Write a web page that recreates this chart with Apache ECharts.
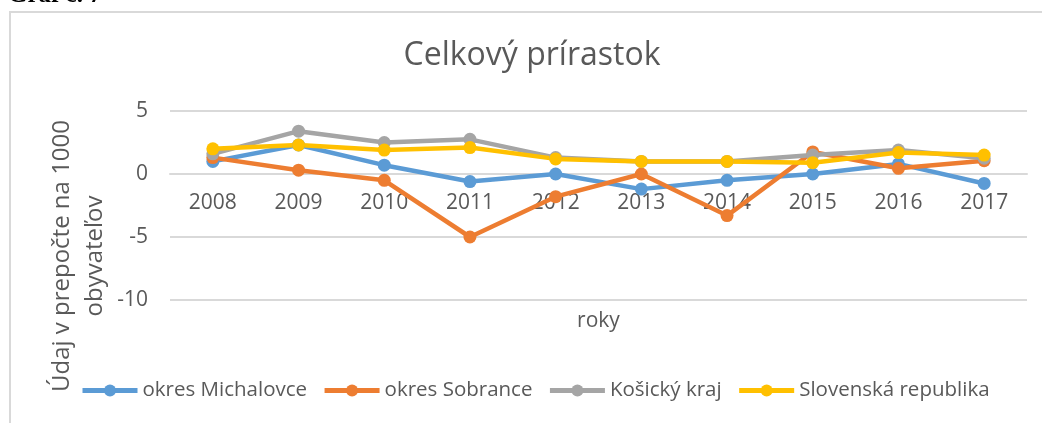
<!DOCTYPE html>
<html>
<head>
<meta charset="utf-8">
<script src="https://cdn.jsdelivr.net/npm/echarts@6/dist/echarts.min.js"></script>
<style>
html,body{margin:0;padding:0;background:#fff;}
#chart{width:1042px;height:423px;}
</style>
</head>
<body>
<div id="chart"></div>
<script>
const years = ['2008','2009','2010','2011','2012','2013','2014','2015','2016','2017'];
const michalovce = [1.0, 2.3, 0.7, -0.6, 0.0, -1.2, -0.5, 0.0, 0.8, -0.75];
const sobrance = [1.3, 0.3, -0.5, -5.0, -1.8, 0.0, -3.3, 1.75, 0.45, 1.05];
const kosickyKraj = [1.6, 3.4, 2.5, 2.75, 1.3, 1.0, 1.0, 1.5, 1.9, 1.25];
const slovensko = [2.0, 2.3, 1.9, 2.1, 1.2, 1.0, 1.0, 0.9, 1.7, 1.5];
const seriesNames = ['okres Michalovce','okres Sobrance','Košický kraj','Slovenská republika'];
const colors = ['#5B9BD5','#ED7D31','#A5A5A5','#FFC000'];
const yMin = -10, yMax = 5, yStep = 5;

const FONT = '"Open Sans", sans-serif';
const gridTop = 111, gridBottom = 123, H = 423;
const plotH = H - gridTop - gridBottom;
// place the category axis at value 0 of the value axis
const zeroOffset = -(0 - yMin) / (yMax - yMin) * plotH;

const chart = echarts.init(document.getElementById('chart'));
const mk = (name, data, color) => ({
  name, type: 'line', data,
  symbol: 'circle', symbolSize: 13,
  lineStyle: {width: 4.5, color},
  itemStyle: {color},
  emphasis: {disabled: true}
});
chart.setOption({
  animation: false,
  textStyle: {fontFamily: FONT},
  color: colors,
  grid: {left: 170, right: 15, top: gridTop, bottom: gridBottom, containLabel: false, outerBoundsMode: 'none'},
  graphic: [
    {type: 'rect', shape: {x: 10, y: 12, width: 1040, height: 440}, style: {fill: 'none', stroke: '#d9d9d9', lineWidth: 2}, silent: true},
    {type: 'text', x: 8, y: 8, style: {text: 'Graf č. 7', font: 'bold 25px "Liberation Serif", serif', fill: '#000', textVerticalAlign: 'bottom'}},
    {type: 'text', x: 532, y: 56, style: {text: 'Celkový prírastok', font: '32px ' + FONT, fill: '#595959', textAlign: 'center', textVerticalAlign: 'middle'}},
    {type: 'text', x: 79, y: 256, rotation: Math.PI / 2, style: {text: 'Údaj v prepočte na 1000\nobyvateľov', font: '24px ' + FONT, fill: '#595959', textAlign: 'center', textVerticalAlign: 'middle', lineHeight: 33}}
  ],
  legend: {
    left: 80, top: 380, padding: 0,
    itemWidth: 55, itemHeight: 15, itemGap: 15,
    lineStyle: {width: 5},
    textStyle: {fontSize: 20.5, color: '#595959', fontFamily: FONT},
    data: seriesNames
  },
  xAxis: {
    type: 'category', data: years, boundaryGap: true,
    offset: zeroOffset,
    name: 'roky', nameLocation: 'middle', nameGap: 137,
    nameTextStyle: {fontSize: 21, color: '#595959'},
    axisLine: {onZero: false, lineStyle: {color: '#d9d9d9', width: 2}},
    axisTick: {show: false},
    axisLabel: {color: '#595959', fontSize: 21, margin: 19}
  },
  yAxis: {
    type: 'value', min: yMin, max: yMax, interval: yStep,
    axisLine: {show: false}, axisTick: {show: false},
    axisLabel: {color: '#595959', fontSize: 21, margin: 22},
    splitLine: {lineStyle: {color: '#d9d9d9', width: 2}}
  },
  series: [
    mk(seriesNames[0], michalovce, colors[0]),
    mk(seriesNames[1], sobrance, colors[1]),
    mk(seriesNames[2], kosickyKraj, colors[2]),
    mk(seriesNames[3], slovensko, colors[3])
  ]
});
</script>
</body>
</html>
